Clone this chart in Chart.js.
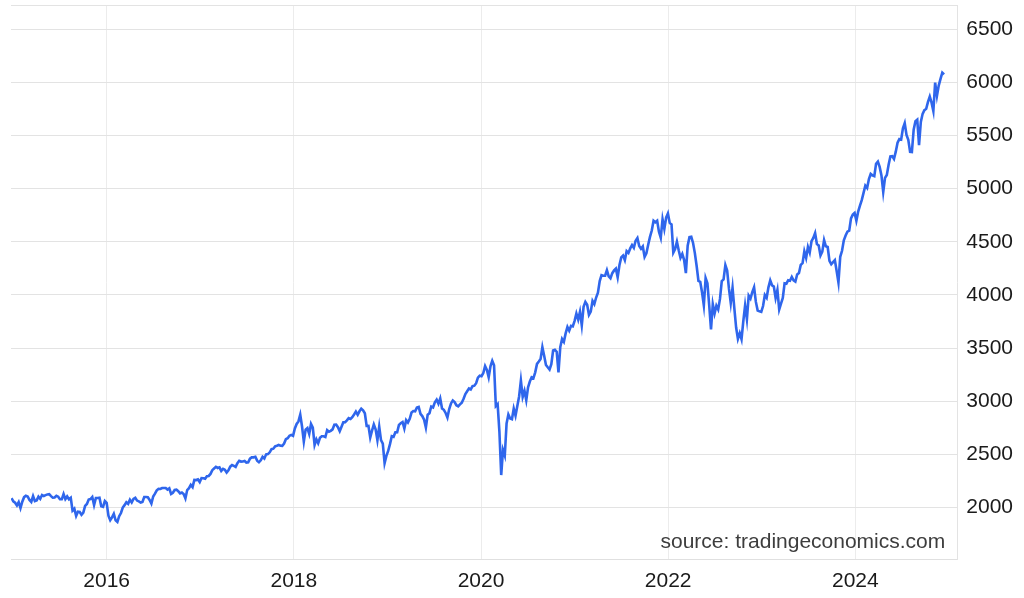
<!DOCTYPE html>
<html>
<head>
<meta charset="utf-8">
<script src="https://cdn.jsdelivr.net/npm/chart.js@4.4.1/dist/chart.umd.min.js"></script>
<style>
  html, body { margin: 0; padding: 0; background: #ffffff; overflow: hidden; }
  #wrap { width: 1024px; height: 598px; position: relative; overflow: hidden; }
  #c { position: absolute; left: 0; top: -16px; }
</style>
</head>
<body>
<div id="wrap"><canvas id="c" width="1024" height="614"></canvas></div>
<script>
// Weekly closes (Fridays), starting 2014-12-26
const startDate = '2014-12-26';
const w2014 = [2088];
const w2015 = [2058,2045,2019,2051,1995,2055,2097,2110,2104,2071,2053,2108,2061,2067,2102,2081,2117,2108,2116,2123,2126,2107,2092,2094,2110,2102,2077,2077,2127,2079,2104,2078,2092,1971,1989,1921,1961,1958,1931,1951,2015,2033,2075,2079,2099,2023,2089,2090,2092,2012,2006,2061,2044];
const w2016 = [1922,1880,1907,1940,1880,1865,1918,1948,2000,2022,2050,2035,2073,2048,2081,2092,2065,2057,2047,2052,2099,2099,2096,2071,2037,2103,2130,2162,2175,2174,2183,2184,2184,2169,2180,2128,2139,2165,2168,2153,2133,2141,2126,2085,2164,2182,2213,2192,2260,2258,2264,2239];
const w2017 = [2277,2275,2271,2295,2297,2316,2351,2367,2383,2372,2378,2344,2363,2355,2329,2349,2384,2399,2391,2382,2416,2439,2432,2433,2438,2423,2425,2459,2473,2472,2477,2441,2426,2444,2477,2461,2500,2502,2519,2549,2553,2575,2581,2588,2582,2579,2602,2642,2652,2675,2683,2674];
const w2018 = [2743,2786,2810,2873,2762,2620,2732,2747,2691,2786,2752,2588,2641,2604,2656,2670,2670,2663,2728,2713,2721,2735,2779,2780,2755,2718,2760,2801,2802,2819,2840,2833,2850,2875,2902,2872,2905,2930,2914,2886,2767,2768,2658,2723,2781,2736,2633,2760,2633,2600,2417,2486];
const w2019 = [2532,2596,2671,2665,2707,2708,2776,2793,2804,2743,2822,2800,2834,2893,2907,2905,2940,2946,2881,2860,2826,2752,2873,2887,2950,2942,2990,3014,2977,3026,2932,2919,2889,2847,2926,2979,3007,2992,2962,2952,2970,2986,3023,3067,3093,3120,3110,3141,3146,3169,3221,3240];
const w2020 = [3235,3265,3330,3295,3226,3328,3380,3338,2954,2972,2711,2305,2541,2489,2790,2875,2837,2831,2930,2864,2955,3044,3194,3041,3098,3009,3130,3185,3225,3216,3271,3351,3373,3397,3508,3427,3341,3319,3298,3348,3477,3484,3465,3270,3509,3585,3558,3638,3699,3663,3709,3703,3756];
const w2021 = [3825,3768,3841,3714,3887,3934,3907,3811,3842,3943,3913,3975,4020,4129,4185,4180,4181,4233,4174,4156,4204,4230,4247,4166,4281,4352,4370,4327,4412,4395,4437,4468,4442,4509,4535,4459,4433,4455,4357,4391,4471,4545,4605,4697,4683,4698,4595,4538,4712,4621,4726,4766];
const w2022 = [4677,4663,4398,4432,4501,4419,4349,4385,4329,4204,4463,4543,4546,4488,4393,4272,4132,4123,4024,3901,4158,4109,3901,3675,3912,3825,3899,3863,3962,4130,4145,4280,4228,4058,3924,4067,3873,3693,3586,3640,3583,3753,3901,3771,3993,3965,4026,4072,3934,3852,3845,3840];
const w2023 = [3895,3999,3973,4071,4136,4090,4079,3970,4046,3862,3917,3971,4109,4105,4138,4133,4169,4136,4124,4192,4205,4282,4299,4410,4348,4450,4399,4505,4536,4582,4478,4464,4370,4406,4516,4457,4450,4320,4288,4308,4327,4224,4117,4358,4415,4514,4559,4595,4604,4719,4755,4770];
const w2024 = [4697,4784,4840,4891,4959,5027,5006,5089,5137,5124,5117,5234,5254,5204,5123,4967,5100,5128,5223,5303,5305,5278,5347,5432,5465,5460,5567,5615,5505,5459,5346,5344,5554,5634,5648,5408,5626,5703,5738,5751,5815,5865,5808,5729,5996,5871,5969,6032,6090,6074];

const yTickValues = [2000,2500,3000,3500,4000,4500,5000,5500,6000,6500];
const xTickValues = [2016,2018,2020,2022,2024];
const xRange = [2014.978, 2025.089];
const yRange = [1508, 6721];
const sourceText = 'source: tradingeconomics.com';

const values = [].concat(w2014,w2015,w2016,w2017,w2018,w2019,w2020,w2021,w2022,w2023,w2024);
function toYear(ms){
  const d = new Date(ms); const y = d.getUTCFullYear();
  const s = Date.UTC(y,0,1), e = Date.UTC(y+1,0,1);
  return y + (ms - s) / (e - s);
}
const t0 = Date.parse(startDate + 'T00:00:00Z');
const points = values.map((v,i) => ({ x: toYear(t0 + i*7*86400000), y: v }));

const FONT = "'Liberation Sans', Arial, Helvetica, sans-serif";

const sourcePlugin = {
  id: 'sourceText',
  afterDatasetsDraw(chart){
    const {ctx, chartArea} = chart;
    ctx.save();
    ctx.font = "21px " + FONT;
    ctx.fillStyle = '#3d3d3d';
    ctx.textAlign = 'right';
    ctx.textBaseline = 'alphabetic';
    ctx.fillText(sourceText, chartArea.right - 12, chartArea.bottom - 12);
    ctx.restore();
  }
};

new Chart(document.getElementById('c'), {
  type: 'line',
  data: {
    datasets: [{
      data: points,
      borderColor: '#2f66ec',
      borderWidth: 2.6,
      pointRadius: 0,
      pointHoverRadius: 0,
      tension: 0,
      fill: false
    }]
  },
  options: {
    responsive: false,
    animation: false,
    devicePixelRatio: 1,
    layout: { padding: { left: 11, top: 5, right: 2, bottom: -5 } },
    plugins: { legend: { display: false }, tooltip: { enabled: false } },
    scales: {
      x: {
        type: 'linear',
        min: xRange[0], max: xRange[1],
        afterBuildTicks(scale){ scale.ticks = xTickValues.map(v => ({ value: v })); },
        grid: { color: '#ececec', lineWidth: 1, drawTicks: false },
        border: { display: true, color: '#e0e0e0' },
        ticks: {
          color: '#1a1a1a',
          font: { family: FONT, size: 21 },
          padding: 9,
          maxRotation: 0,
          autoSkip: false,
          callback: v => String(v)
        }
      },
      y: {
        type: 'linear',
        position: 'right',
        min: yRange[0], max: yRange[1],
        afterBuildTicks(scale){
          scale.ticks = [yRange[0]].concat(yTickValues, [yRange[1]]).map(v => ({ value: v }));
        },
        grid: { color: '#e3e3e3', lineWidth: 1, drawTicks: false },
        border: { display: true, color: '#e3e3e3' },
        ticks: {
          color: '#1a1a1a',
          font: { family: FONT, size: 21 },
          padding: 9,
          autoSkip: false,
          callback: v => (yTickValues.includes(v) ? String(v) : '')
        }
      }
    }
  },
  plugins: [sourcePlugin]
});
</script>
</body>
</html>
